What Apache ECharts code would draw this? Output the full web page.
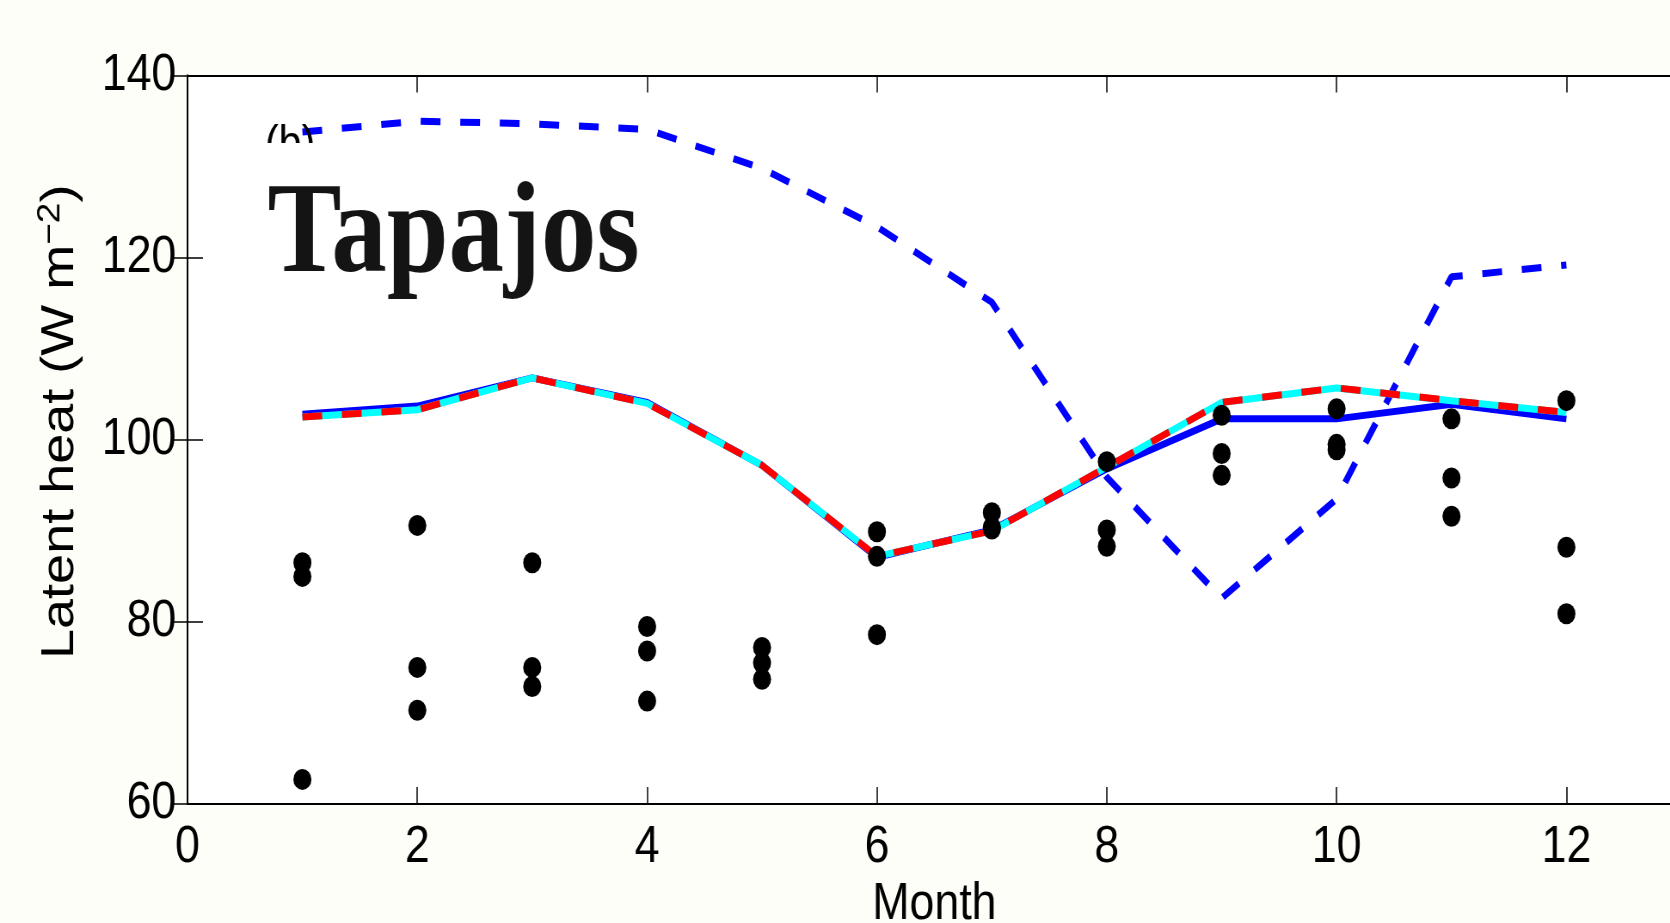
<!DOCTYPE html>
<html>
<head>
<meta charset="utf-8">
<script src="https://cdn.jsdelivr.net/npm/echarts@6/dist/echarts.min.js"></script>
<style>
  html, body { margin: 0; padding: 0; background: #fefef8; overflow: hidden; }
  /* the source figure is squeezed horizontally, so the chart is drawn wider and scaled back */
  #main { width: 1942px; height: 923px; transform: scaleX(0.86); transform-origin: 0 0; }
</style>
</head>
<body>
<div id="main"></div>
<script>
// month numbers
var months = [1, 2, 3, 4, 5, 6, 7, 8, 9, 10, 11, 12]

// model runs (W m-2)
var dashedBlue = [133.8, 135.0, 134.7, 134.1, 129.8, 123.4, 115.1, 95.9, 82.6, 93.5, 117.9, 119.2]
var solidBlue = [102.8, 103.7, 106.8, 104.1, 97.2, 87.1, 90.1, 96.8, 102.3, 102.3, 103.9, 102.3]
var cyanRun = [102.5, 103.3, 106.8, 104.0, 97.2, 87.2, 90.0, 97.0, 104.1, 105.7, 104.3, 103.0]
var redRun = [102.5, 103.3, 106.8, 104.0, 97.2, 87.2, 90.0, 97.0, 104.1, 105.7, 104.3, 103.0]

// observations, three years per month
var obsA = [86.5, 90.6, 86.5, 79.5, 77.2, 89.9, 92.0, 97.6, 102.7, 103.4, 102.3, 104.3]
var obsB = [85.0, 75.0, 75.0, 76.8, 75.5, 87.2, 90.4, 90.1, 98.5, 99.5, 95.8, 88.2]
var obsC = [62.7, 70.3, 72.9, 71.3, 73.7, 78.6, 90.2, 88.3, 96.1, 98.9, 91.6, 80.9]

var xTicks = [0, 2, 4, 6, 8, 10, 12]
var yTicks = [60, 80, 100, 120, 140]
var xMax = 13

function pairs (vals) {
  return months.map(function (m, i) { return [m, vals[i]] })
}

var obsData = []
months.forEach(function (m, i) {
  obsData.push([m, obsA[i]], [m, obsB[i]], [m, obsC[i]])
})

var font = '"Liberation Sans", Arial, sans-serif'
var axisLine = { show: true, lineStyle: { color: '#000', width: 2 } }

var chart = echarts.init(document.getElementById('main'))
chart.setOption({
  animation: false,
  backgroundColor: '#fefef8',
  grid: {
    left: 218,
    top: 75.6,
    width: 1737,
    height: 728.4,
    outerBoundsMode: 'none',
    containLabel: false,
    show: true,
    backgroundColor: '#ffffff',
    borderWidth: 0
  },
  xAxis: [{
    type: 'value',
    min: xTicks[0],
    max: xMax,
    interval: xTicks[1] - xTicks[0],
    position: 'bottom',
    name: 'Month',
    nameLocation: 'middle',
    nameGap: 75,
    nameTextStyle: { fontFamily: font, fontSize: 52, color: '#000' },
    axisLine: axisLine,
    axisTick: { show: true, inside: true, length: 17, lineStyle: { color: '#000', width: 1.5 } },
    axisLabel: {
      margin: 18,
      fontFamily: font,
      fontSize: 52,
      color: '#000',
      formatter: function (v) { return xTicks.indexOf(v) >= 0 ? String(v) : '' }
    },
    splitLine: { show: false }
  }, {
    type: 'value',
    min: xTicks[0],
    max: xMax,
    interval: xTicks[1] - xTicks[0],
    position: 'top',
    axisLine: axisLine,
    axisTick: { show: true, inside: true, length: 17, lineStyle: { color: '#000', width: 1.5 } },
    axisLabel: { show: false },
    splitLine: { show: false }
  }],
  yAxis: [{
    type: 'value',
    min: yTicks[0],
    max: yTicks[yTicks.length - 1],
    interval: yTicks[1] - yTicks[0],
    position: 'left',
    name: '{t|Latent heat (W m}{s|−2}{t|)}',
    nameLocation: 'middle',
    nameGap: 118,
    nameTextStyle: {
      padding: [0, 0, 0, 36],
      rich: {
        t: { fontFamily: font, fontSize: 54, color: '#000', lineHeight: 60 },
        s: { fontFamily: font, fontSize: 37, color: '#000', lineHeight: 60, verticalAlign: 'top' }
      }
    },
    axisLine: axisLine,
    axisTick: { show: true, inside: true, length: 18, lineStyle: { color: '#000', width: 1.5 } },
    axisLabel: { margin: 13, fontFamily: font, fontSize: 52, color: '#000' },
    splitLine: { show: false }
  }, {
    type: 'value',
    min: yTicks[0],
    max: yTicks[yTicks.length - 1],
    interval: yTicks[1] - yTicks[0],
    position: 'right',
    axisLine: axisLine,
    axisTick: { show: true, inside: true, length: 18, lineStyle: { color: '#000', width: 1.5 } },
    axisLabel: { show: false },
    splitLine: { show: false }
  }],
  graphic: [{
    type: 'text',
    z: 100,
    style: {
      x: 308,
      y: 146,
      text: '(b)',
      font: '48px "Liberation Sans", Arial, sans-serif',
      fill: '#000',
      verticalAlign: 'middle'
    }
  }, {
    // the label box hides most of "(b)"
    type: 'rect',
    z: 101,
    shape: { x: 298, y: 143, width: 90, height: 42 },
    style: { fill: '#ffffff' }
  }, {
    type: 'text',
    z: 102,
    style: {
      x: 311,
      y: 238,
      text: 'Tapajos',
      font: 'bold 129px "Liberation Serif", "Times New Roman", serif',
      fill: '#141414',
      verticalAlign: 'middle'
    }
  }],
  series: [{
    type: 'line',
    data: pairs(dashedBlue),
    symbol: 'none',
    lineStyle: { color: '#0000ff', width: 7, type: [23, 23] },
    z: 2
  }, {
    type: 'line',
    data: pairs(solidBlue),
    symbol: 'none',
    lineStyle: { color: '#0000ff', width: 7 },
    z: 3
  }, {
    type: 'line',
    data: pairs(cyanRun),
    symbol: 'none',
    lineStyle: { color: '#00ffff', width: 7 },
    z: 4
  }, {
    type: 'line',
    data: pairs(redRun),
    symbol: 'none',
    lineStyle: { color: '#ff0000', width: 7, type: [23, 23] },
    z: 5
  }, {
    type: 'scatter',
    data: obsData,
    symbol: 'circle',
    symbolSize: 21,
    itemStyle: { color: '#000000', opacity: 1 },
    z: 6
  }]
})
</script>
</body>
</html>
